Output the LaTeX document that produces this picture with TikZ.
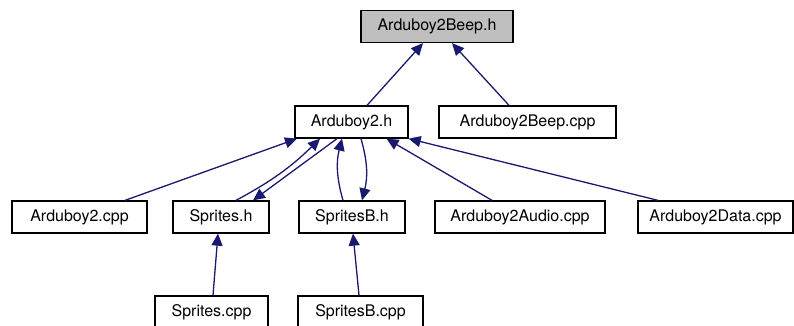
\documentclass[tikz,border=0pt]{standalone}
\usepackage{fontspec}
\setmainfont{TeX Gyre Heros}
\usepackage{tikz}
\usetikzlibrary{arrows.meta}
\usetikzlibrary{positioning}
\definecolor{edgeblue}{HTML}{191970}
\tikzstyle{file}=[draw, rectangle, line width=1.3pt, inner sep=0pt, minimum height=32pt, font=\fontsize{16}{18}\selectfont, fill=white]
\tikzstyle{cur}=[file, fill=black!25!white]
\tikzstyle{dep}=[draw=edgeblue, line width=1.3pt, -{Triangle[length=12pt, width=11pt]}, color=edgeblue]

\begin{document}
\begin{tikzpicture}[x=1pt, y=-1pt]
				\useasboundingbox (0,0) rectangle (794,325);
				
				% rows of files
				\node (beep) [cur, minimum width=152pt] at (437,26.5) {Arduboy2Beep.h};
				
				\node (arduboy) [file, minimum width=113pt] at (351.5,122) {Arduboy2.h};
				\node (beepcpp) [file, minimum width=177pt] at (527.5,122) {Arduboy2Beep.cpp};
				
				\node (arduboycpp) [file, minimum width=135pt] at (79.5,217) {Arduboy2.cpp};
				\node (sprites) [file, minimum width=96pt] at (221,217) {Sprites.h};
				\node (spritesb) [file, minimum width=106pt] at (352,217) {SpritesB.h};
				\node (audio) [file, minimum width=170pt] at (520,217) {Arduboy2Audio.cpp};
				\node (data) [file, minimum width=155pt] at (715.5,217) {Arduboy2Data.cpp};
				
				\node (spritescpp) [file, minimum width=113pt] at (211.5,312) {Sprites.cpp};
				\node (spritesbcpp) [file, minimum width=125pt] at (360.5,312) {SpritesB.cpp};
				
				% includes
				\draw [dep] ([xshift=15.5pt]arduboy.north) to ([xshift=-14pt]beep.south);
				\draw [dep] ([xshift=-18.5pt]beepcpp.north) to ([xshift=15pt]beep.south);
				
				\draw [dep] ([xshift=45.5pt]arduboycpp.north) to ([xshift=-54.5pt]arduboy.south);
				\draw [dep] ([xshift=15pt]sprites.north) to [bend right=8] ([xshift=-31.5pt]arduboy.south);
				\draw [dep] ([xshift=-14.5pt]arduboy.south) to ([xshift=32pt]sprites.north);
				\draw [dep] ([xshift=-9pt]spritesb.north) to [bend left=15] ([xshift=-9.5pt]arduboy.south);
				\draw [dep] ([xshift=9.5pt]arduboy.south) to [bend left=15] ([xshift=10pt]spritesb.north);
				\draw [dep] ([xshift=-28pt]audio.north) to ([xshift=35pt]arduboy.south);
				\draw [dep] ([xshift=-57.5pt]data.north) to (arduboy.south east);
				
				\draw [dep] ([xshift=1.5pt]spritescpp.north) to ([xshift=-3pt]sprites.south);
				\draw [dep] ([xshift=-1.5pt]spritesbcpp.north) to ([xshift=1pt]spritesb.south);
\end{tikzpicture}
\end{document}
